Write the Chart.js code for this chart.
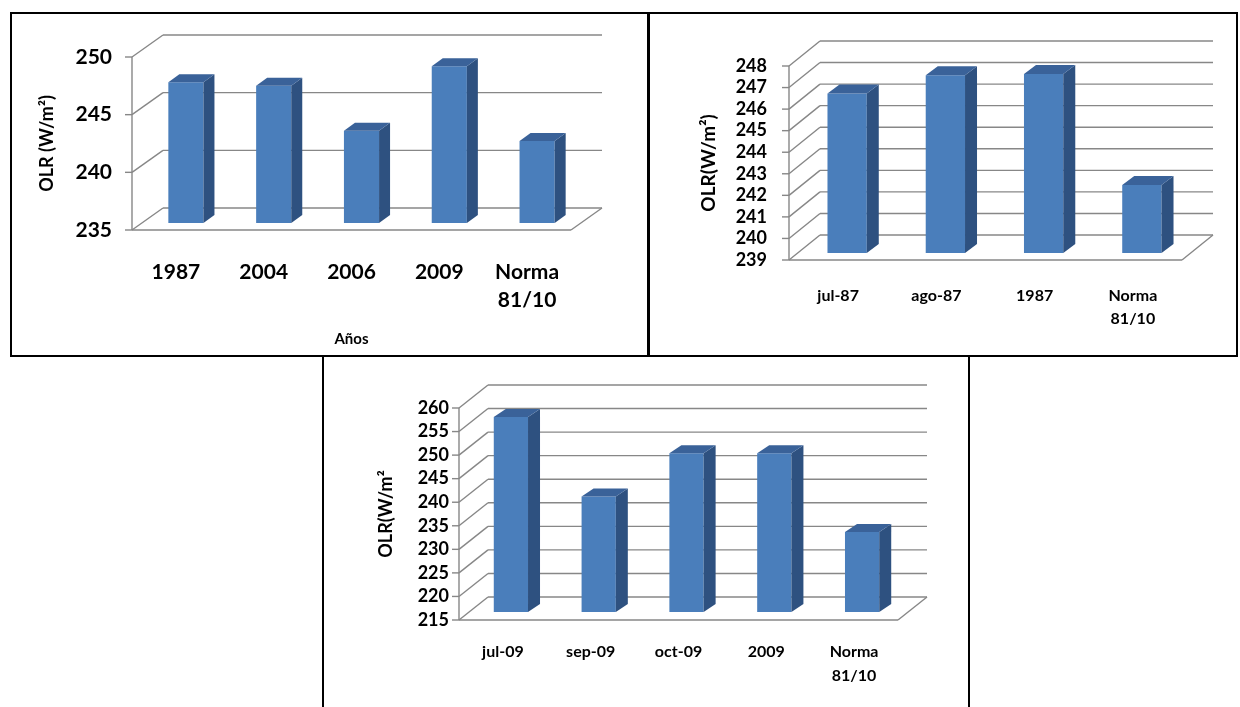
<!DOCTYPE html>
<html>
<head>
<meta charset="utf-8">
<script src="https://cdn.jsdelivr.net/npm/chart.js@4/dist/chart.umd.min.js"></script>
<style>
  html, body { margin: 0; padding: 0; background: #fff; }
  body { width: 1240px; height: 707px; position: relative; overflow: hidden; }
  .panel { position: absolute; border: 2px solid #000; box-sizing: border-box; }
  canvas { position: absolute; }
</style>
</head>
<body>
<div class="panel" style="left:10px;top:12px;width:639px;height:345px;"></div>
<div class="panel" style="left:648px;top:12px;width:590px;height:345px;"></div>
<div class="panel" style="left:322px;top:355px;width:648px;height:370px;"></div>
<canvas id="c1" width="634" height="339" style="left:12px;top:14px;"></canvas>
<canvas id="c2" width="584" height="339" style="left:651px;top:14px;"></canvas>
<canvas id="c3" width="644" height="350" style="left:324px;top:357px;"></canvas>
<script>
// ---------- data ----------
const chart1Categories = ['1987', '2004', '2006', '2009', ['Norma', '81/10']];
const chart1Values = [247.2, 246.9, 243.0, 248.6, 242.1];
const chart1Ticks = [235, 240, 245, 250];

const chart2Categories = ['jul-87', 'ago-87', '1987', ['Norma', '81/10']];
const chart2Values = [246.4, 247.25, 247.3, 242.15];
const chart2Ticks = [239, 240, 241, 242, 243, 244, 245, 246, 247, 248];

const chart3Categories = ['jul-09', 'sep-09', 'oct-09', '2009', ['Norma', '81/10']];
const chart3Values = [256.4, 239.5, 248.7, 248.7, 232.0];
const chart3Ticks = [215, 220, 225, 230, 235, 240, 245, 250, 255, 260];

const FONT = 'Lato, "Open Sans", sans-serif';
const FRONT = '#4A7EBB', SIDE = '#2E5180', TOP = '#3A6299', GRID = '#878787';

// ---------- 3D frame plugin ----------
const frame3d = {
  id: 'frame3d',
  beforeDatasetsDraw(chart, args, o) {
    const ctx = chart.ctx, L = chart.chartArea.left, R = chart.chartArea.right, y = chart.scales.y;
    const line = (a, b, c, d) => { ctx.beginPath(); ctx.moveTo(a, b); ctx.lineTo(c, d); ctx.stroke(); };
    ctx.save();
    ctx.strokeStyle = GRID; ctx.lineWidth = 1.4;
    y.ticks.forEach(t => {
      const yf = y.getPixelForValue(t.value), yb = yf + o.dy;
      line(L - 7, yf, L, yf);
      line(L, yf, L + o.dx, yb);
      line(L + o.dx, yb, R + o.dx, yb);
    });
    const yT = y.getPixelForValue(y.max), yB = y.getPixelForValue(y.min);
    line(L, yT, L, yB);
    line(L, yB, R, yB);
    line(R, yB, R + o.dx, yB + o.dy);
    ctx.restore();
    ctx.save();
    ctx.translate(o.fx, o.fy);
  },
  afterDatasetsDraw(chart, args, o) {
    const ctx = chart.ctx;
    chart.getDatasetMeta(0).data.forEach(bar => {
      const p = bar.getProps(['x', 'y', 'base', 'width'], true);
      const x1 = p.x - p.width / 2, x2 = p.x + p.width / 2;
      ctx.fillStyle = SIDE;
      ctx.beginPath();
      ctx.moveTo(x2, p.y); ctx.lineTo(x2 + o.sx, p.y + o.sy);
      ctx.lineTo(x2 + o.sx, p.base + o.sy); ctx.lineTo(x2, p.base);
      ctx.closePath(); ctx.fill();
      ctx.fillStyle = TOP;
      ctx.beginPath();
      ctx.moveTo(x1, p.y); ctx.lineTo(x1 + o.sx, p.y + o.sy);
      ctx.lineTo(x2 + o.sx, p.y + o.sy); ctx.lineTo(x2, p.y);
      ctx.closePath(); ctx.fill();
    });
    ctx.restore();
  }
};

function build(id, cats, vals, ticks, g) {
  const step = ticks[1] - ticks[0];
  return new Chart(document.getElementById(id), {
    type: 'bar',
    data: {
      labels: cats,
      datasets: [{ data: vals, base: ticks[0], backgroundColor: FRONT, borderWidth: 0,
        categoryPercentage: 1, barPercentage: g.bar, clip: false }]
    },
    plugins: [frame3d],
    options: {
      responsive: false, animation: false, devicePixelRatio: 1,
      layout: { padding: { left: g.padL, right: g.padR, top: g.padT, bottom: g.padB } },
      plugins: {
        legend: { display: false }, tooltip: { enabled: false },
        frame3d: { dx: g.dx, dy: g.dy, fx: g.fx, fy: g.fy, sx: g.sx, sy: g.sy }
      },
      scales: {
        x: {
          grid: { display: false, drawTicks: false }, border: { display: false },
          ticks: { color: '#000', font: { family: FONT, weight: 'bold', size: g.xFont, lineHeight: g.xLH },
                   padding: g.xPad, maxRotation: 0, autoSkip: false },
          title: g.xTitle ? { display: true, text: g.xTitle, color: '#000', padding: 0,
                   font: { family: FONT, weight: 'bold', size: 15 } } : { display: false },
          afterFit(s) { s.height = g.xH; }
        },
        y: {
          min: ticks[0], max: ticks[ticks.length - 1],
          grid: { display: false, drawTicks: false }, border: { display: false },
          ticks: { stepSize: step, autoSkip: false, color: '#000', padding: g.yPad,
                   font: { family: FONT, weight: 'bold', size: g.yFont } },
          title: { display: true, text: g.yTitle, color: '#000', padding: 0,
                   font: { family: FONT, weight: 'bold', size: g.tFont } },
          afterFit(s) { s.width = g.yW; }
        }
      }
    }
  });
}

// chart 1: canvas at (12,14) 634x339
build('c1', chart1Categories, chart1Values, chart1Ticks, {
  padL: 24, yW: 96, padT: 43, padR: 75, xH: 118, padB: 5,
  yPad: 20, xPad: 28, xFont: 21, xLH: 1.35, yFont: 21, tFont: 18,
  yTitle: 'OLR (W/m²)', xTitle: 'Años',
  bar: 0.40, dx: 31, dy: -22, fx: 10, fy: -7, sx: 11, sy: -8
});
// chart 2: canvas at (651,14) 584x339
build('c2', chart2Categories, chart2Values, chart2Ticks, {
  padL: 46, yW: 92, padT: 52, padR: 53, xH: 80, padB: 13,
  yPad: 22, xPad: 24, xFont: 16, xLH: 1.45, yFont: 18, tFont: 19,
  yTitle: 'OLR(W/m²)', xTitle: null,
  bar: 0.40, dx: 31, dy: -25, fx: 9, fy: -7, sx: 12, sy: -9
});
// chart 3: canvas at (324,357) 644x350
build('c3', chart3Categories, chart3Values, chart3Ticks, {
  padL: 51, yW: 84, padT: 51, padR: 70, xH: 85, padB: 2,
  yPad: 10, xPad: 19, xFont: 16, xLH: 1.55, yFont: 18, tFont: 18,
  yTitle: 'OLR(W/m²', xTitle: null,
  bar: 0.39, dx: 29, dy: -23, fx: 8, fy: -8, sx: 12, sy: -8
});
</script>
</body>
</html>
